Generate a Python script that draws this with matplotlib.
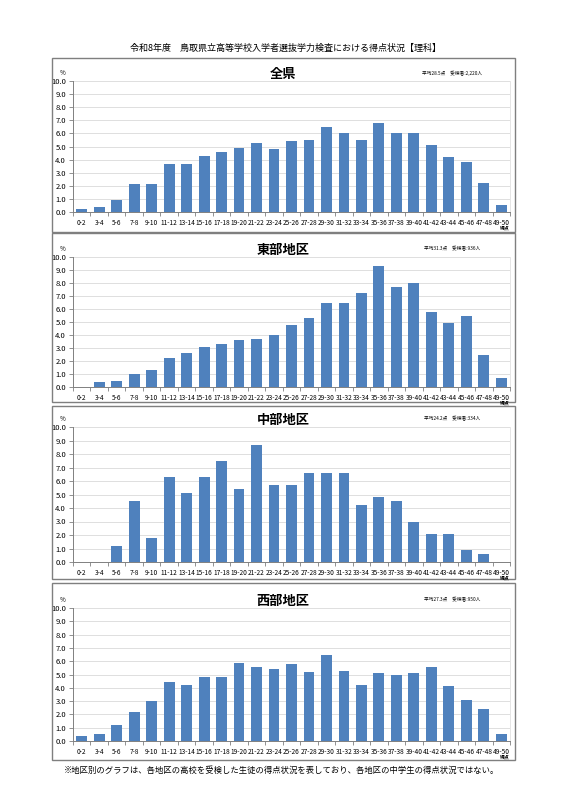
import matplotlib.pyplot as plt
from matplotlib.patches import Rectangle
import numpy as np

plt.rcParams['font.family'] = ['Noto Sans CJK JP', 'DejaVu Sans']

# score bands
bands = ['0-2', '3-4', '5-6', '7-8', '9-10', '11-12', '13-14', '15-16', '17-18',
         '19-20', '21-22', '23-24', '25-26', '27-28', '29-30', '31-32', '33-34',
         '35-36', '37-38', '39-40', '41-42', '43-44', '45-46', '47-48', '49-50']

# percentage of examinees per band
zenken = [0.2, 0.4, 0.9, 2.1, 2.1, 3.7, 3.7, 4.3, 4.6, 4.9, 5.3, 4.8, 5.4, 5.5,
          6.5, 6.0, 5.5, 6.8, 6.0, 6.0, 5.1, 4.2, 3.8, 2.2, 0.5]
tobu = [0.0, 0.4, 0.5, 1.0, 1.3, 2.2, 2.6, 3.1, 3.3, 3.6, 3.7, 4.0, 4.8, 5.3,
        6.5, 6.5, 7.2, 9.3, 7.7, 8.0, 5.8, 4.9, 5.5, 2.5, 0.7]
chubu = [0.0, 0.0, 1.2, 4.5, 1.8, 6.3, 5.1, 6.3, 7.5, 5.4, 8.7, 5.7, 5.7, 6.6,
         6.6, 6.6, 4.2, 4.8, 4.5, 3.0, 2.1, 2.1, 0.9, 0.6, 0.0]
seibu = [0.4, 0.5, 1.2, 2.2, 3.0, 4.4, 4.2, 4.8, 4.8, 5.9, 5.6, 5.4, 5.8, 5.2,
         6.5, 5.3, 4.2, 5.1, 5.0, 5.1, 5.6, 4.1, 3.1, 2.4, 0.5]

titles = ['全県', '東部地区', '中部地区', '西部地区']
stats = ['平均28.5点　受検者:2,220人', '平均31.3点　受検者:936人',
         '平均24.2点　受検者:334人', '平均27.3点　受検者:950人']
series = [zenken, tobu, chubu, seibu]

W, H = 571, 801
fig = plt.figure(figsize=(W / 100, H / 100), dpi=100)

# pixel layout: (box top, box bottom, y of 10.0, y of 0.0)
panels = [(58, 232, 81, 212), (233, 402, 257, 387),
          (406, 579, 427, 562), (583, 760, 608, 741)]
x_left, x_right = 73, 510
bar_color = '#4F81BD'

fig.text(285 / W, 1 - 48 / H,
         '令和8年度　鳥取県立高等学校入学者選抜学力検査における得点状況【理科】',
         ha='center', va='center', fontsize=6.5)

x = np.arange(len(bands))
for (top, bot, y10, y0), title, stat, vals in zip(panels, titles, stats, series):
    fig.patches.append(Rectangle((52 / W, 1 - bot / H), (515 - 52) / W, (bot - top) / H,
                                 transform=fig.transFigure, fill=False,
                                 edgecolor='#7f7f7f', linewidth=1.0))
    ax = fig.add_axes([x_left / W, 1 - y0 / H, (x_right - x_left) / W, (y0 - y10) / H])
    ax.bar(x, vals, width=0.62, color=bar_color, zorder=3)
    ax.set_xlim(-0.5, len(bands) - 0.5)
    ax.set_ylim(0, 10)
    ax.set_yticks(np.arange(0, 10.1, 1.0))
    ax.set_yticklabels([f'{v:.1f}' for v in np.arange(0, 10.1, 1.0)])
    ax.set_xticks(x)
    ax.set_xticklabels(bands)
    ax.set_xticks(np.arange(-0.5, len(bands), 1.0), minor=True)
    ax.tick_params(axis='x', which='major', length=0, labelsize=4.7, pad=5)
    ax.tick_params(axis='x', which='minor', length=3, color='#808080', width=0.6)
    ax.tick_params(axis='y', labelsize=5.5, length=3, color='#808080', width=0.6, pad=2)
    ax.grid(axis='y', color='#d9d9d9', linewidth=0.6, zorder=0)
    ax.spines['top'].set_visible(False)
    ax.spines['right'].set_color('#e0e0e0')
    ax.spines['right'].set_linewidth(0.6)
    ax.spines['left'].set_color('#808080')
    ax.spines['bottom'].set_color('#808080')
    ax.spines['left'].set_linewidth(0.7)
    ax.spines['bottom'].set_linewidth(0.7)

    fig.text(283 / W, 1 - (y10 - 7) / H, title, ha='center', va='center',
             fontsize=9.5, fontweight='bold')
    fig.text(63 / W, 1 - (y10 - 8) / H, '%', ha='center', va='center', fontsize=4.5)
    fig.text(452 / W, 1 - (y10 - 8) / H, stat, ha='center', va='center', fontsize=3.4)
    fig.text(505 / W, 1 - (y0 + 16) / H, '得点', ha='center', va='center',
             fontsize=3.5, fontweight='bold')

fig.text(282 / W, 1 - 770 / H,
         '※地区別のグラフは、各地区の高校を受検した生徒の得点状況を表しており、各地区の中学生の得点状況ではない。',
         ha='center', va='center', fontsize=6.0)

fig.savefig('out.png', dpi=100, facecolor='white')
